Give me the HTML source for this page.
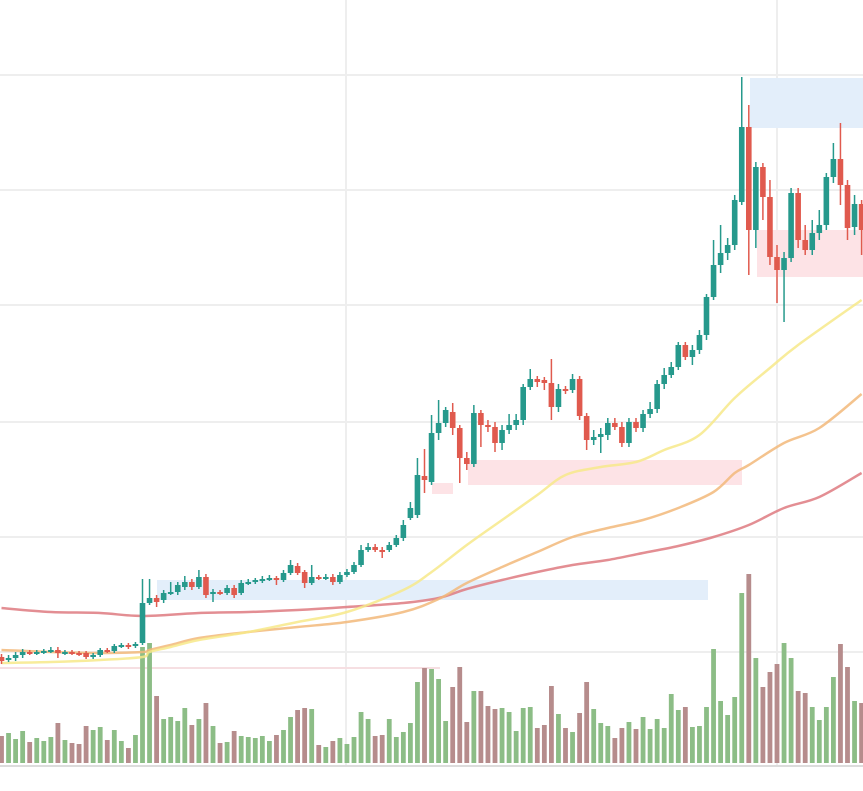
<!DOCTYPE html>
<html><head><meta charset="utf-8"><style>
html,body{margin:0;padding:0;background:#fff;}
svg{display:block;}
</style></head><body>
<svg id="chart" width="863" height="791" viewBox="0 0 863 791" xmlns="http://www.w3.org/2000/svg">
<g id="grid"></g>
<g id="zones"></g>
<g id="volume"></g>
<g id="mas"></g>
<g id="candles"></g>
</svg>
<script>
const openP=[113,111,112,115,118,117,118,119,120,117,118,117,117,113,115,120,119,124,125,124,127,167,172,170,177,178,183,188,183,193,177,178,177,182,177,187,188,189,191,192,190,197,204,198,187,193,192,193,188,195,198,205,220,223,220,220,225,232,252,255,294,288,337,347,358,342,312,306,357,345,343,327,340,345,350,383,391,390,387,363,381,380,391,354,330,333,335,347,343,327,348,342,356,361,386,395,403,425,413,420,435,473,505,517,525,568,643,540,603,573,513,500,512,577,530,520,537,545,593,611,585,543,566];
const closeP=[109,112,115,118,117,118,119,120,117,118,117,116,113,115,120,119,124,125,123,126,167,172,168,177,178,185,188,183,193,175,178,177,182,175,187,188,190,191,192,190,197,205,197,187,193,192,193,188,195,198,205,220,223,220,218,225,232,245,262,295,290,337,347,360,342,312,306,357,345,343,327,340,345,350,383,391,388,387,363,381,379,391,354,330,333,336,347,343,327,348,342,356,361,386,395,403,425,413,420,435,473,505,517,525,570,643,540,603,573,513,500,512,577,530,520,537,545,593,611,585,542,566,540];
const highP=[116,115,118,121,120,120,121,123,123,120,120,119,119,117,122,122,126,127,127,128,191,191,175,180,188,188,194,191,200,196,181,180,185,185,190,191,192,194,195,194,200,210,207,200,205,195,196,196,198,201,208,225,227,226,223,228,235,250,268,312,321,355,370,363,367,345,318,365,360,350,348,345,356,356,386,401,394,393,411,386,384,396,394,357,340,342,352,352,348,352,352,360,368,390,402,408,428,428,425,440,476,530,545,532,575,693,665,608,607,590,525,518,582,582,545,550,560,597,627,647,590,575,570];
const lowP=[106,108,109,112,115,115,116,117,112,115,115,114,111,111,113,117,117,122,121,122,125,165,163,167,175,175,180,180,181,172,168,175,175,172,175,185,186,187,189,185,188,195,195,182,185,190,190,185,186,193,196,203,218,218,212,218,223,229,250,252,277,285,330,343,335,287,300,303,323,338,318,320,336,340,345,380,383,380,350,358,376,377,350,320,325,317,330,340,323,323,338,338,352,357,381,392,400,410,405,416,430,470,497,510,520,565,495,522,550,505,467,448,508,522,515,515,530,540,587,565,530,535,515];
const volumes=[27,30,24,32,21,25,22,26,40,23,20,19,37,33,36,23,33,22,15,28,116,120,67,44,46,42,55,38,44,60,37,20,21,32,27,26,25,27,22,28,33,46,53,55,54,18,16,22,25,19,26,51,44,27,28,44,26,31,40,81,95,94,84,42,76,96,41,72,72,57,54,55,51,32,55,56,35,38,77,49,35,31,50,81,54,40,37,25,35,41,34,46,34,44,35,69,53,56,36,37,56,114,62,48,66,170,189,105,76,91,99,120,105,72,70,56,43,56,86,119,96,62,60];
const gridTicks=[118,233,348,465,580,695];
const maSlowIdx=[0,7,14,20,28,35,42,49,57,62,66,71,76,81,86,91,96,101,106,111,116,122];
const maSlowVal=[162,158,157,154,157,158,160,163,167,172,181,190,198,205,210,217,224,233,245,262,273,297];
const maMidIdx=[0,7,14,20,21,24,28,35,42,49,57,62,66,71,76,81,86,91,96,101,104,106,111,116,122];
const maMidVal=[120,118,117,118,120,125,132,138,143,148,158,171,187,203,218,233,242,250,262,278,297,305,327,342,376];
const maFastIdx=[0,7,14,20,21,24,28,35,42,49,57,61,66,71,76,80,85,90,94,99,104,109,113,122];
const maFastVal=[107,108,110,113,118,123,130,138,148,158,180,198,225,250,275,295,303,308,320,335,372,402,425,470];

const NS='http://www.w3.org/2000/svg';
const xS=i=>1.5+7.05*i;
const yS=p=>770-p;
const vS=v=>763-v;
function mk(tag,attrs,parent){const e=document.createElementNS(NS,tag);for(const k in attrs)e.setAttribute(k,attrs[k]);parent.appendChild(e);return e;}

const grid=document.getElementById('grid');
gridTicks.forEach(t=>{
  const l=mk('line',{x1:0,x2:863,y1:yS(t),y2:yS(t),stroke:'#eeeeee','stroke-width':2},grid);
  
  
});
[346,777].forEach(x=>{
  const l=mk('line',{x1:x,x2:x,y1:0,y2:766,stroke:'#eeeeee','stroke-width':2},grid);
  
  
});
const ax=mk('line',{x1:0,x2:863,y1:766,y2:766,stroke:'#dcdcdc','stroke-width':2},grid);



const zones=document.getElementById('zones');
const zoneDefs=[[750,78,113,50,'#e3eefa'],[157,580,551,20,'#e3eefa'],[468,460,274,25,'#fde3e6'],[432,483,21,11,'#fde3e6'],[757,230,106,47,'#fde3e6']];
zoneDefs.forEach(z=>{
  const r=mk('rect',{x:z[0],y:z[1],width:z[2],height:z[3],fill:z[4]},zones);
  
  
});
const pl=mk('line',{x1:0,x2:440,y1:668,y2:668,stroke:'#f6dfe2','stroke-width':2},zones);



const vol=document.getElementById('volume');
volumes.forEach((v,i)=>{
  const up=closeP[i]>=openP[i];
  const r=mk('rect',{x:xS(i)-2.4,y:vS(v),width:4.8,height:v,fill:up?'#8cbd86':'#b68c8c'},vol);
  
  
});

const mas=document.getElementById('mas');
function drawMA(idx,val,color,name){
  const pts=idx.map((k,j)=>[xS(k),yS(val[j])]);
  let d='M'+pts[0][0].toFixed(1)+','+pts[0][1].toFixed(1);
  for(let j=0;j<pts.length-1;j++){
    const p0=pts[Math.max(0,j-1)],p1=pts[j],p2=pts[j+1],p3=pts[Math.min(pts.length-1,j+2)];
    const c1=[p1[0]+(p2[0]-p0[0])/6,p1[1]+(p2[1]-p0[1])/6];
    const c2=[p2[0]-(p3[0]-p1[0])/6,p2[1]-(p3[1]-p1[1])/6];
    d+=' C'+c1[0].toFixed(1)+','+c1[1].toFixed(1)+' '+c2[0].toFixed(1)+','+c2[1].toFixed(1)+' '+p2[0].toFixed(1)+','+p2[1].toFixed(1);
  }
  const p=mk('path',{d:d,fill:'none',stroke:color,'stroke-width':2.5,'stroke-linejoin':'round','stroke-opacity':0.85},mas);
  
  
}
drawMA(maSlowIdx,maSlowVal,'#de7a80','ma-slow-line');
drawMA(maMidIdx,maMidVal,'#f2b87a','ma-mid-line');
drawMA(maFastIdx,maFastVal,'#f7e98a','ma-fast-line');

const cg=document.getElementById('candles');
openP.forEach((o,i)=>{
  const c=closeP[i];const up=c>=o;const col=up?'#26998c':'#e05a4e';
  const x=xS(i);
  const w=mk('line',{x1:x,x2:x,y1:yS(highP[i]),y2:yS(lowP[i]),stroke:col,'stroke-width':1.5},cg);
  
  
  const top=yS(Math.max(o,c));const h=Math.max(2,Math.abs(o-c));
  const b=mk('rect',{x:x-2.8,y:top,width:5.6,height:h,fill:col},cg);
  
  
});
</script>
</body></html>
